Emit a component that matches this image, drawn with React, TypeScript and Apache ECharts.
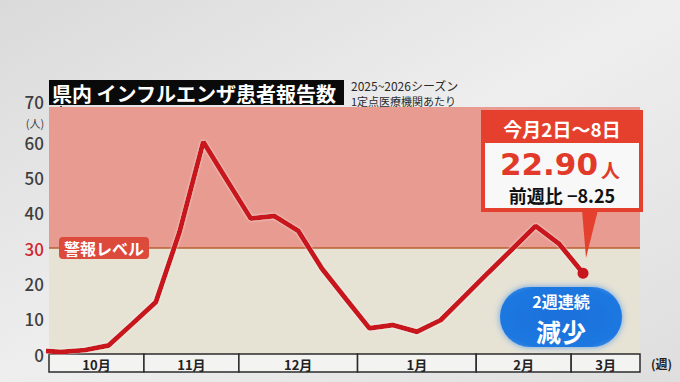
import React, { useEffect, useRef } from "react";
import * as echarts from "echarts";

// weekly reports per sentinel site (first value is the week before the visible range)
const weekValues = [1.0, 0.6, 1.1, 2.4, 8.5, 14.7, 34.6, 60.1, 49.2, 38.4, 39.1, 34.9, 24.2, 15.7, 7.3, 8.2, 6.3, 9.6, 16.3, 23.0, 29.6, 36.3, 31.15, 22.9];
const firstWeekIndex = -1;
const months = ["10月", "11月", "12月", "1月", "2月", "3月"];
const monthStart = [-0.5, 3.5, 7.5, 12.5, 17.5, 21.5];
const monthEnd = [3.5, 7.5, 12.5, 17.5, 21.5, 24.4];
const yTicks = [0, 10, 20, 30, 40, 50, 60, 70];
const warningLevel = 30;
const xMin = -0.5;
const xMax = 24.4;

const JP = '"Noto Sans CJK JP", "Noto Sans", sans-serif';

export default function App() {
  const ref = useRef<HTMLDivElement>(null);
  useEffect(() => {
    if (!ref.current) return;
    const chart = echarts.init(ref.current, undefined, { renderer: "svg" });
    const lineData = weekValues.map((v, i) => [i + firstWeekIndex, v]);
    const last = lineData.length - 1;
    const monthData = months.map((m, i) => [monthStart[i], monthEnd[i], i]);
    const option: any = {
      animation: false,
      backgroundColor: new echarts.graphic.LinearGradient(0, 0, 1, 1, [
        { offset: 0, color: "#dadada" },
        { offset: 0.5, color: "#eeeeee" },
        { offset: 1, color: "#dedede" },
      ]),
      grid: [
        { left: 49, right: 40, top: 107, bottom: 28 },
        { left: 49, right: 40, top: 354, height: 18 },
      ],
      xAxis: [
        { type: "value", gridIndex: 0, min: xMin, max: xMax, show: false },
        { type: "value", gridIndex: 1, min: xMin, max: xMax, show: false },
      ],
      yAxis: [
        {
          type: "value",
          gridIndex: 0,
          min: yTicks[0],
          max: yTicks[yTicks.length - 1],
          interval: 10,
          axisLine: { show: true, lineStyle: { color: "#1e1e1e", width: 2 } },
          axisTick: { show: false },
          axisLabel: {
            margin: 5,
            fontFamily: JP,
            fontSize: 17,
            fontWeight: 500,
            color: "#3e3e3e",
            formatter: (v: number) =>
              v === warningLevel ? `{r|${v}}` : v === 70 ? `{t|${v}}` : `${v}`,
            rich: {
              r: { color: "#d0262b", fontSize: 17, fontWeight: 500, fontFamily: JP },
              t: { color: "#3e3e3e", fontSize: 17, fontWeight: 500, fontFamily: JP, padding: [0, 0, 12, 0] },
            },
          },
          splitLine: {
            show: true,
            lineStyle: {
              width: 1,
              color: [
                "rgba(0,0,0,0)",
                "#d2cdbf",
                "#d2cdbf",
                "rgba(0,0,0,0)",
                "rgba(255,255,255,0.12)",
                "rgba(255,255,255,0.12)",
                "rgba(255,255,255,0.12)",
                "rgba(0,0,0,0)",
              ],
            },
          },
        },
        { type: "value", gridIndex: 1, min: 0, max: 1, show: false },
      ],
      series: [
        {
          type: "line",
          xAxisIndex: 0,
          yAxisIndex: 0,
          data: lineData,
          clip: true,
          symbol: "circle",
          symbolSize: (_v: any, p: any) => (p.dataIndex === last ? 11 : 0),
          showSymbol: true,
          itemStyle: { color: "#c8161d" },
          lineStyle: {
            color: "#c8161d",
            width: 5,
            shadowColor: "rgba(255,255,255,0.7)",
            shadowBlur: 2,
          },
          z: 5,
          markArea: {
            silent: true,
            data: [
              [{ yAxis: warningLevel, itemStyle: { color: "#e89b91" } }, { yAxis: 70 }],
              [{ yAxis: 0, itemStyle: { color: "#e6e2d4" } }, { yAxis: warningLevel }],
            ],
          },
          markLine: {
            silent: true,
            symbol: "none",
            label: { show: false },
            lineStyle: { color: "#b9602f", width: 1.5, type: "solid" },
            data: [{ yAxis: warningLevel }],
          },
        },
        {
          type: "custom",
          xAxisIndex: 1,
          yAxisIndex: 1,
          data: monthData,
          encode: { x: [0, 1] },
          renderItem: (_params: any, api: any) => {
            const s = api.value(0);
            const e = api.value(1);
            const i = api.value(2);
            const p0 = api.coord([s, 1]);
            const p1 = api.coord([e, 0]);
            return {
              type: "group",
              children: [
                {
                  type: "rect",
                  shape: { x: p0[0], y: p0[1], width: p1[0] - p0[0], height: p1[1] - p0[1] },
                  style: { fill: "#f3f3f1", stroke: "#2b2b2b", lineWidth: 1.5 },
                },
                {
                  type: "text",
                  style: {
                    text: months[i],
                    x: (p0[0] + p1[0]) / 2,
                    y: (p0[1] + p1[1]) / 2 + 1,
                    align: "center",
                    verticalAlign: "middle",
                    fontFamily: JP,
                    fontWeight: "bold",
                    fontSize: 13,
                    fill: "#222",
                  },
                },
              ],
            };
          },
        },
      ],
      graphic: [
        { type: "rect", shape: { x: 49, y: 80, width: 295, height: 25 }, style: { fill: "#0a0a0a" }, z: 10 },
        {
          type: "text", x: 52, y: 93, z: 11,
          style: { text: "県内 インフルエンザ患者報告数", fill: "#fff", fontFamily: JP, fontWeight: "bold", fontSize: 20, verticalAlign: "middle" },
        },
        {
          type: "text", x: 351, y: 85, z: 11,
          style: { text: "2025~2026シーズン", fill: "#2a2a2a", fontFamily: JP, fontSize: 12, verticalAlign: "middle" },
        },
        {
          type: "text", x: 351, y: 101, z: 11,
          style: { text: "1定点医療機関あたり", fill: "#2a2a2a", fontFamily: JP, fontSize: 11, verticalAlign: "middle" },
        },
        {
          type: "text", x: 35, y: 123, z: 11,
          style: { text: "(人)", fill: "#3e3e3e", fontFamily: JP, fontSize: 11, align: "center", verticalAlign: "middle" },
        },
        {
          type: "text", x: 651, y: 363, z: 11,
          style: { text: "(週)", fill: "#222", fontFamily: JP, fontWeight: "bold", fontSize: 12, verticalAlign: "middle" },
        },
        // warning label
        { type: "rect", shape: { x: 59, y: 237, width: 90, height: 22, r: 4 }, style: { fill: "#dc4a3c" }, z: 10 },
        {
          type: "text", x: 104, y: 248, z: 11,
          style: { text: "警報レベル", fill: "#fff", fontFamily: JP, fontWeight: "bold", fontSize: 16, align: "center", verticalAlign: "middle" },
        },
        // callout
        { type: "polygon", shape: { points: [[582, 210], [598, 210], [586, 258]] }, style: { fill: "#e5402d" }, z: 10 },
        { type: "rect", shape: { x: 481, y: 110, width: 162, height: 102 }, style: { fill: "#e5402d" }, z: 10 },
        { type: "rect", shape: { x: 485, y: 143, width: 154, height: 65 }, style: { fill: "#f8f8f8" }, z: 11 },
        {
          type: "text", x: 562, y: 128, z: 12,
          style: { text: "今月2日〜8日", fill: "#fff", fontFamily: JP, fontWeight: "bold", fontSize: 19, align: "center", verticalAlign: "middle" },
        },
        {
          type: "text", x: 598, y: 164, z: 12,
          style: { text: "22.90", fill: "#e23a2a", fontFamily: '"DejaVu Sans", sans-serif', fontWeight: "bold", fontSize: 31, align: "right", verticalAlign: "middle" },
        },
        {
          type: "text", x: 601, y: 169, z: 12,
          style: { text: "人", fill: "#e23a2a", fontFamily: JP, fontWeight: "bold", fontSize: 19, align: "left", verticalAlign: "middle" },
        },
        {
          type: "text", x: 562, y: 195, z: 12,
          style: { text: "前週比 −8.25", fill: "#111", fontFamily: JP, fontWeight: "bold", fontSize: 18, align: "center", verticalAlign: "middle" },
        },
        // blue bubble
        {
          type: "rect", z: 10,
          shape: { x: 500, y: 287, width: 122, height: 60, r: 30 },
          style: {
            fill: new echarts.graphic.RadialGradient(0.5, 0.5, 0.7, [
              { offset: 0, color: "#1a70dc" },
              { offset: 0.75, color: "#1f78e0" },
              { offset: 1, color: "#4a9cf0" },
            ]),
            shadowColor: "rgba(40,130,235,0.7)",
            shadowBlur: 6,
          },
        },
        {
          type: "text", x: 561, y: 301, z: 11,
          style: { text: "2週連続", fill: "#fff", fontFamily: JP, fontWeight: "bold", fontSize: 16, lineHeight: 16, align: "center", verticalAlign: "middle" },
        },
        {
          type: "text", x: 561, y: 331, z: 11,
          style: { text: "減少", fill: "#fff", fontFamily: JP, fontWeight: "bold", fontSize: 25, lineHeight: 25, align: "center", verticalAlign: "middle" },
        },
      ],
    };
    chart.setOption(option);
    return () => chart.dispose();
  }, []);
  return <div ref={ref} style={{ position: "fixed", left: 0, top: 0, width: 680, height: 382 }} />;
}
